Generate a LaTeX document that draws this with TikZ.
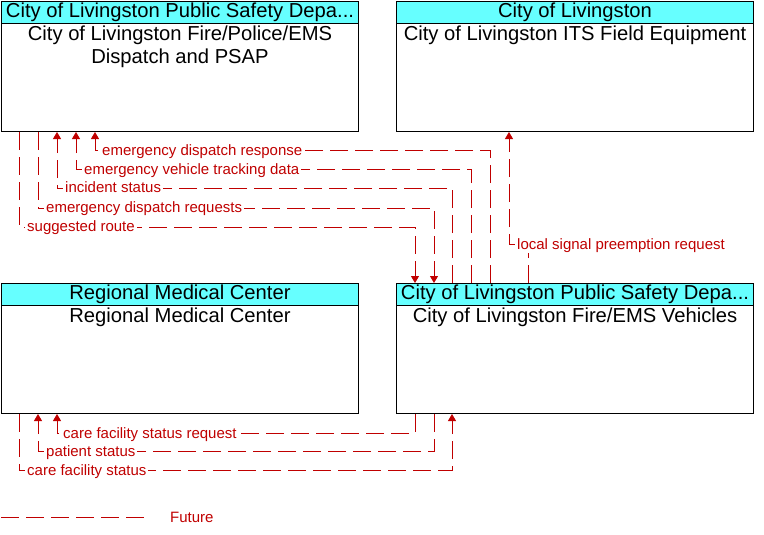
\documentclass[tikz,border=0pt]{standalone}
\usepackage{fontspec}
\setmainfont{Liberation Sans}
\usetikzlibrary{arrows.meta,calc}
\definecolor{flowred}{RGB}{192,0,0}
\definecolor{hdrcyan}{RGB}{102,255,255}
\begin{document}
\begin{tikzpicture}[x=1pt,y=-1pt,
  box/.style={draw=black,line width=1pt,minimum width=357pt,minimum height=130pt,anchor=north west,inner sep=0pt},
  hdr/.style={draw=black,line width=1pt,fill=hdrcyan,minimum width=357pt,minimum height=22pt,anchor=north,inner sep=0pt,font=\fontsize{20.2}{22}\selectfont},
  body/.style={anchor=north,align=center,font=\fontsize{20.2}{23}\selectfont,inner sep=0pt},
  flow/.style={draw=flowred,line width=1pt,dash pattern=on 18pt off 7pt},
  arr/.style={-{Triangle[width=8pt,length=7pt]}},
  lbl/.style={fill=white,text=flowred,font=\fontsize{15}{16}\selectfont,inner xsep=2pt,inner ysep=1pt,anchor=base west}
]
\useasboundingbox (0,0) rectangle (764,535);
% boxes
\node[box] (A) at (1,1) {};
\node[box] (B) at (396,1) {};
\node[box] (C) at (1,283) {};
\node[box] (D) at (396,283) {};
\node[hdr] (Ah) at (A.north) {City of Livingston Public Safety Depa...};
\node[hdr] (Bh) at (B.north) {City of Livingston};
\node[hdr] (Ch) at (C.north) {Regional Medical Center};
\node[hdr] (Dh) at (D.north) {City of Livingston Public Safety Depa...};
\node[body] (At) at ($(A.north)+(0,25)$) {City of Livingston Fire/Police/EMS\\Dispatch and PSAP};
\node[body] (Bt) at ($(B.north)+(0,25)$) {City of Livingston ITS Field Equipment};
\node[body] (Ct) at ($(C.north)+(0,25)$) {Regional Medical Center};
\node[body] (Dt) at ($(D.north)+(0,25)$) {City of Livingston Fire/EMS Vehicles};
% top flows
\draw[flow,arr] ([xshift=18pt]A.south west) -- ++(0,95) -| ([xshift=19pt]D.north west);
\draw[flow,arr] ([xshift=37pt]A.south west) -- ++(0,76) -| ([xshift=38pt]D.north west);
\draw[flow,arr] ([xshift=56pt]D.north west) -- ++(0,-95) -| ([xshift=56pt]A.south west);
\draw[flow,arr] ([xshift=75pt]D.north west) -- ++(0,-114) -| ([xshift=75pt]A.south west);
\draw[flow,arr] ([xshift=94pt]D.north west) -- ++(0,-133) -| ([xshift=94pt]A.south west);
\draw[flow,arr] ([xshift=132pt]D.north west) -- ++(0,-39) -| ([xshift=113pt]B.south west);
% bottom flows
\draw[flow,arr] ([xshift=19pt]D.south west) -- ++(0,19) -| ([xshift=56pt]C.south west);
\draw[flow,arr] ([xshift=38pt]D.south west) -- ++(0,37) -| ([xshift=37pt]C.south west);
\draw[flow,arr] ([xshift=18pt]C.south west) -- ++(0,56) -| ([xshift=56pt]D.south west);
% labels
\node[lbl] (l1) at (25,231) {suggested route};
\node[lbl] (l2) at (44,212) {emergency dispatch requests};
\node[lbl] (l3) at (63,193) {incident status};
\node[lbl] (l4) at (82,174) {emergency vehicle tracking data};
\node[lbl] (l5) at (100,155) {emergency dispatch response};
\node[lbl] (l6) at (515,249) {local signal preemption request};
\node[lbl] (l7) at (61,438) {care facility status request};
\node[lbl] (l8) at (44,456) {patient status};
\node[lbl] (l9) at (25,475) {care facility status};
% legend
\coordinate (lg1) at (1,517);
\coordinate (lg2) at (150,517);
\draw[flow] (lg1) -- (lg2);
\node[text=flowred,anchor=base west,inner sep=0pt,font=\fontsize{15}{17}\selectfont] (fut) at (170,522) {Future};
\end{tikzpicture}
\end{document}
